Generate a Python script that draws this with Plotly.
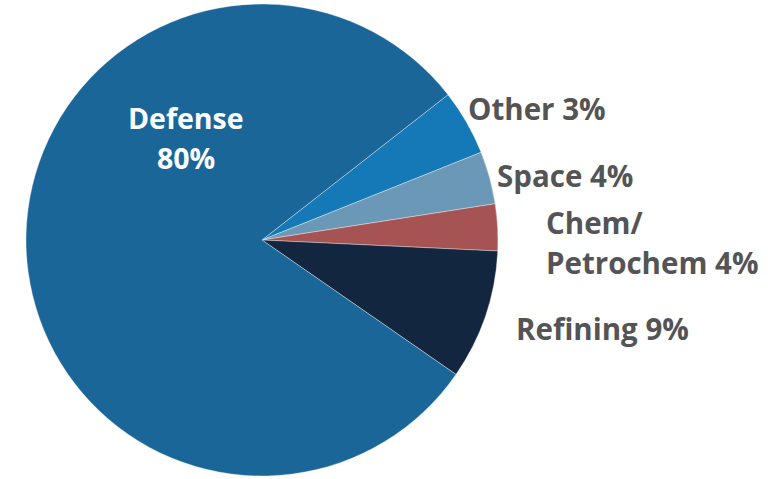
import plotly.graph_objects as go

W, H = 784, 479

categories = ["Other", "Space", "Chem/Petrochem", "Refining", "Defense"]
values = [4.5, 3.6, 3.2, 8.9, 79.8]
label_pct = ["3%", "4%", "4%", "9%", "80%"]
colors = ["#1479b6", "#6a98b6", "#a55453", "#13263f", "#1b6699"]

fig = go.Figure(go.Pie(
    labels=categories,
    values=values,
    sort=False,
    direction="clockwise",
    rotation=52,
    marker=dict(colors=colors, line=dict(color="rgba(255,255,255,0.6)", width=0.6)),
    textinfo="none",
    hoverinfo="label+percent",
    showlegend=False,
    domain=dict(x=[26 / W, 498 / W], y=[(H - 476) / H, (H - 4) / H]),
))

font_out = dict(family="Open Sans", size=29.5, color="#545456")
font_in = dict(family="Open Sans", size=28.5, color="#ffffff")

def px(x, y):
    return x / W, 1 - y / H

anns = []
# outside labels: (text, left x px, center y px)
outside = [
    (f"<b>{categories[0]} {label_pct[0]}</b>", 466, 109),
    (f"<b>{categories[1]} {label_pct[1]}</b>", 495, 176),
    ("<b>Chem/</b>", 544, 222),
    (f"<b>Petrochem {label_pct[2]}</b>", 544, 262),
    (f"<b>{categories[3]} {label_pct[3]}</b>", 514, 328),
]
for t, x, y in outside:
    ax, ay = px(x, y)
    anns.append(dict(text=t, x=ax, y=ay, xref="paper", yref="paper",
                     xanchor="left", yanchor="middle", showarrow=False, font=font_out))
for t, y in [(f"<b>{categories[4]}</b>", 118), (f"<b>{label_pct[4]}</b>", 158)]:
    ax, ay = px(186, y)
    anns.append(dict(text=t, x=ax, y=ay, xref="paper", yref="paper",
                     xanchor="center", yanchor="middle", showarrow=False, font=font_in))

fig.update_layout(
    width=W, height=H,
    margin=dict(l=0, r=0, t=0, b=0),
    paper_bgcolor="white",
    plot_bgcolor="white",
    annotations=anns,
)

fig.write_html("out.html")
